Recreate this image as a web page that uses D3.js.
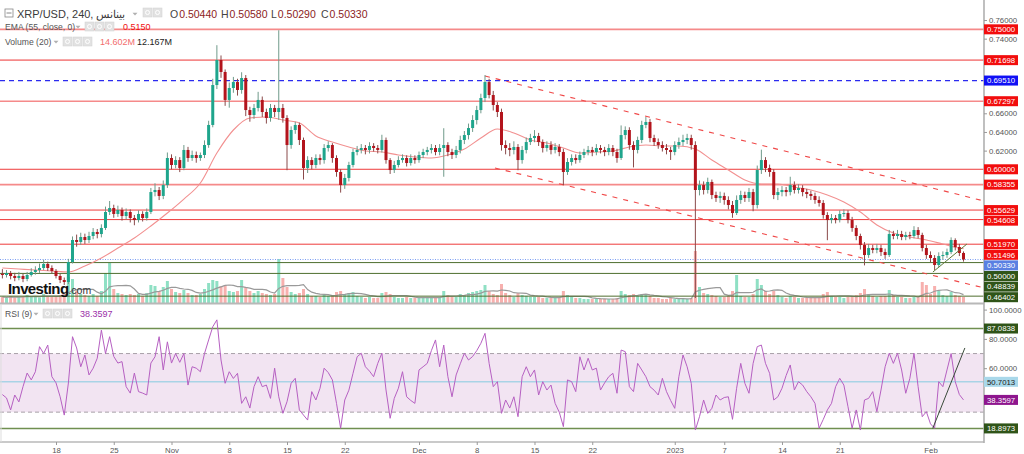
<!DOCTYPE html>
<html><head><meta charset="utf-8">
<script src="https://cdn.jsdelivr.net/npm/d3@7/dist/d3.min.js"></script>
<style>
html,body{margin:0;padding:0;background:#fff;}
svg{display:block;font-family:"Liberation Sans",Arial,sans-serif;}
</style></head><body>
<svg id="c" width="1024" height="454"></svg>
<script>
// ---------- DATA (12h candles, XRP/USD) ----------
const firstCandle = "2022-10-11T12:00:00Z";
const firstOpen = 0.4880;
const closes = [
0.4867,0.4888,0.4856,0.4835,0.4856,0.4824,0.4867,0.4899,0.4920,0.4942,
0.4985,0.4942,0.4910,0.4856,0.4813,0.4792,0.5006,0.5242,0.5221,0.5274,
0.5242,0.5285,0.5328,0.5306,0.5371,0.5542,0.5585,0.5521,0.5564,0.5499,
0.5542,0.5478,0.5456,0.5521,0.5478,0.5542,0.5756,0.5778,0.5714,0.5831,
0.6121,0.6046,0.6099,0.6014,0.6207,0.6121,0.6153,0.6121,0.6153,0.6260,
0.6475,0.6903,0.7171,0.7043,0.6743,0.6871,0.6935,0.6850,0.6978,0.6635,
0.6582,0.6657,0.6743,0.6614,0.6550,0.6657,0.6614,0.6657,0.6550,0.6260,
0.6421,0.6475,0.6314,0.6014,0.6099,0.6046,0.6121,0.6099,0.6228,0.6260,
0.6121,0.5971,0.5831,0.5907,0.6046,0.6185,0.6207,0.6228,0.6207,0.6250,
0.6228,0.6207,0.6314,0.6099,0.5992,0.6046,0.6099,0.6121,0.6067,0.6121,
0.6099,0.6153,0.6185,0.6207,0.6228,0.6185,0.6228,0.6260,0.6185,0.6153,
0.6207,0.6314,0.6367,0.6442,0.6528,0.6635,0.6764,0.6935,0.6796,0.6689,
0.6614,0.6260,0.6228,0.6207,0.6239,0.6099,0.6207,0.6292,0.6335,0.6357,
0.6292,0.6228,0.6260,0.6207,0.6239,0.6185,0.5971,0.6078,0.6121,0.6099,
0.6153,0.6185,0.6207,0.6185,0.6228,0.6207,0.6185,0.6228,0.6185,0.6121,
0.6367,0.6421,0.6260,0.6207,0.6314,0.6475,0.6507,0.6335,0.6292,0.6260,
0.6228,0.6207,0.6185,0.6260,0.6292,0.6314,0.6335,0.6260,0.5778,0.5831,
0.5778,0.5864,0.5724,0.5692,0.5714,0.5671,0.5617,0.5531,0.5671,0.5724,
0.5692,0.5756,0.5617,0.5992,0.6099,0.6014,0.5971,0.5724,0.5756,0.5778,
0.5756,0.5831,0.5778,0.5799,0.5756,0.5735,0.5714,0.5671,0.5639,0.5510,
0.5456,0.5478,0.5456,0.5521,0.5531,0.5456,0.5371,0.5285,0.5188,0.5081,
0.5156,0.5135,0.5156,0.5113,0.5081,0.5306,0.5285,0.5306,0.5274,0.5296,
0.5285,0.5349,0.5296,0.5156,0.5081,0.5049,0.4974,0.5070,0.5081,0.5113,
0.5242,0.5167,0.5103,0.5033];
const highs = [
0.493,0.492,0.491,0.489,0.490,0.488,0.490,0.494,0.496,0.499,
0.503,0.501,0.497,0.493,0.488,0.484,0.504,0.528,0.530,0.532,
0.531,0.533,0.537,0.536,0.541,0.560,0.566,0.562,0.561,0.559,
0.558,0.557,0.551,0.556,0.555,0.558,0.580,0.585,0.581,0.588,
0.618,0.616,0.614,0.613,0.626,0.624,0.620,0.619,0.618,0.631,
0.652,0.697,0.733,0.722,0.707,0.693,0.699,0.697,0.704,0.701,
0.667,0.670,0.683,0.678,0.665,0.670,0.669,0.749,0.670,0.658,
0.646,0.651,0.650,0.634,0.614,0.613,0.616,0.616,0.627,0.630,
0.628,0.615,0.600,0.595,0.608,0.622,0.625,0.627,0.626,0.629,
0.628,0.626,0.637,0.634,0.612,0.609,0.614,0.616,0.615,0.616,
0.615,0.619,0.622,0.624,0.627,0.626,0.627,0.644,0.629,0.622,
0.625,0.636,0.641,0.649,0.658,0.668,0.681,0.701,0.697,0.684,
0.672,0.665,0.631,0.628,0.630,0.627,0.625,0.634,0.638,0.642,
0.639,0.632,0.630,0.630,0.628,0.627,0.622,0.612,0.616,0.616,
0.619,0.622,0.625,0.624,0.627,0.626,0.624,0.627,0.626,0.622,
0.647,0.646,0.645,0.630,0.635,0.652,0.656,0.654,0.637,0.633,
0.630,0.627,0.624,0.630,0.634,0.637,0.638,0.637,0.630,0.588,
0.587,0.591,0.589,0.576,0.576,0.575,0.571,0.566,0.572,0.577,
0.576,0.580,0.579,0.604,0.621,0.613,0.605,0.600,0.580,0.582,
0.581,0.592,0.587,0.584,0.583,0.579,0.577,0.575,0.571,0.567,
0.554,0.552,0.551,0.556,0.557,0.556,0.549,0.540,0.531,0.522,
0.520,0.519,0.520,0.519,0.515,0.535,0.534,0.535,0.534,0.533,
0.533,0.539,0.538,0.532,0.519,0.512,0.508,0.511,0.512,0.515,
0.527,0.526,0.520,0.512];
const lows = [
0.483,0.484,0.482,0.480,0.481,0.479,0.480,0.485,0.487,0.489,
0.492,0.491,0.488,0.483,0.478,0.476,0.477,0.499,0.517,0.519,
0.520,0.521,0.525,0.526,0.527,0.535,0.551,0.548,0.549,0.545,
0.546,0.543,0.540,0.543,0.544,0.545,0.552,0.571,0.567,0.568,
0.580,0.600,0.601,0.597,0.599,0.608,0.609,0.607,0.609,0.612,
0.623,0.645,0.686,0.698,0.668,0.666,0.682,0.679,0.681,0.657,
0.651,0.654,0.662,0.656,0.649,0.651,0.656,0.653,0.650,0.599,
0.622,0.638,0.626,0.589,0.596,0.600,0.601,0.605,0.606,0.619,
0.607,0.592,0.575,0.579,0.587,0.602,0.615,0.617,0.616,0.617,
0.619,0.617,0.618,0.606,0.595,0.596,0.602,0.607,0.603,0.604,
0.606,0.607,0.612,0.615,0.617,0.615,0.615,0.592,0.614,0.611,
0.612,0.617,0.627,0.632,0.640,0.648,0.660,0.672,0.676,0.663,
0.656,0.620,0.616,0.614,0.616,0.599,0.606,0.617,0.626,0.629,
0.625,0.618,0.619,0.616,0.617,0.614,0.583,0.594,0.604,0.606,
0.607,0.612,0.615,0.614,0.615,0.617,0.614,0.615,0.614,0.607,
0.610,0.632,0.621,0.602,0.617,0.628,0.644,0.629,0.625,0.622,
0.619,0.616,0.610,0.615,0.622,0.625,0.627,0.621,0.462,0.572,
0.573,0.574,0.568,0.565,0.564,0.562,0.557,0.548,0.551,0.563,
0.565,0.565,0.555,0.558,0.595,0.597,0.592,0.568,0.567,0.571,
0.571,0.572,0.574,0.574,0.571,0.569,0.567,0.563,0.560,0.547,
0.524,0.542,0.542,0.543,0.549,0.542,0.533,0.524,0.514,0.497,
0.505,0.510,0.510,0.507,0.504,0.506,0.525,0.525,0.524,0.524,
0.525,0.526,0.526,0.512,0.504,0.500,0.492,0.495,0.503,0.505,
0.509,0.513,0.507,0.501];
// volume per candle, millions
const volumes = [
30,25,35,28,30,32,40,35,30,28, 45,35,30,35,40,45,130,120,60,45,
40,35,45,35,60,150,200,70,50,45, 40,45,40,45,35,50,90,85,60,80,
110,70,55,50,65,50,40,40,45,70, 100,115,110,85,90,60,55,60,115,80,
60,50,60,50,45,40,45,220,125,80, 55,45,50,70,45,35,35,30,40,35,
40,55,60,45,50,55,35,30,25,30, 25,25,50,55,45,30,25,25,30,25,
25,25,30,25,30,30,25,60,40,30, 30,45,40,50,55,60,65,90,60,45,
40,95,50,40,30,50,40,35,30,30, 30,25,25,25,25,30,60,40,30,25,
25,20,20,20,20,20,20,20,20,25, 60,45,40,45,35,45,40,35,25,25,
20,20,25,20,20,20,20,25,260,80, 50,45,40,35,30,30,35,60,140,35,
30,30,45,120,90,60,45,60,40,30, 25,35,30,25,25,25,25,25,30,45,
55,35,30,30,25,30,35,40,50,70, 45,35,30,35,35,65,40,30,30,25,
25,30,30,105,90,45,85,60,40,35, 55,40,35,30];
// EMA(55) read every 4 candles, plus the last candle
const emaSlots = [0,4,8,12,16,20,24,28,32,36,40,44,48,52,56,60,64,68,72,76,80,84,88,92,96,100,104,108,112,116,120,124,128,132,136,140,144,148,152,156,160,164,168,172,176,180,184,188,192,196,200,204,208,212,216,220,224,228,232,233];
const emaValues = [0.4942,0.4931,0.4920,0.4910,0.4899,0.4963,0.5049,0.5156,0.5263,0.5392,0.5531,0.5681,0.5853,0.6174,0.6421,0.6550,0.6560,0.6528,0.6496,0.6357,0.6292,0.6239,0.6196,0.6185,0.6153,0.6132,0.6121,0.6153,0.6217,0.6335,0.6432,0.6389,0.6314,0.6282,0.6228,0.6174,0.6185,0.6196,0.6239,0.6260,0.6250,0.6250,0.6217,0.6099,0.5992,0.5885,0.5842,0.5842,0.5810,0.5778,0.5724,0.5649,0.5542,0.5403,0.5317,0.5274,0.5242,0.5199,0.5156,0.51496];
// RSI(9) per candle
const rsiValues = [
42,39.7,31.5,41.7,37,47.4,56.7,52,57.6,74.7, 70,75.8,54.2,50,40.5,28,49.9,81.5,73.8,61,
69,55.4,60,66.8,86,70,81.5,68,63.5,64.5, 47.4,43,56.7,44,43,41.7,63.5,67.8,81.5,58.8,
78,63.5,70,64,70,48.5,61,60,57.6,70, 79.3,88.3,93,65.6,49.7,57.6,53,56.5,36,40.5,
32.8,47.4,54.2,47.4,48.5,39.4,60,40.5,29.2,37.1, 49.7,53.1,31.5,28,24.6,44,38.3,46.3,60,57,
52,36,19,38.3,45,56.5,67.8,70.2,61,58, 54.2,63.3,70.2,45.1,25.8,39.4,46.3,57.6,40.5,38,
36,58.8,61,63.3,72,79.3,61,75.8,54.2,40.5, 55.4,63,70.2,65.6,68,72,77,83.8,63.3,47.4,
50.8,29.2,38.3,32.8,40.5,26.9,54.2,61,54.2,58.8, 41.7,50.8,45.1,48.5,36,30,20.1,52,50.8,44,
67.8,58.8,66.8,58.8,60,45.1,50,54.2,56.5,42.9, 72.4,71.3,47.4,44,63.3,58.8,54.2,47.4,45,41.7,
53.1,44,38,32.6,54.2,69,61,49.7,17.8,26.9, 38.3,29.2,32.6,41.7,38.3,40,40.5,25.1,46.3,63.3,
49.7,42.9,63.3,74.7,75.8,63.3,56.5,38.3,40.5,46.3, 55,62.2,45.1,50.8,48.5,44,40.5,36,19,25,
31.5,36,47.4,53.1,48.5,33.7,19,31.5,17.8,38.3, 39.4,44,30.3,45.1,61,70.2,63.3,70.2,58.8,42.9,
53.1,70.2,47.4,26.9,30.3,22,19,50.8,47.4,58.8, 70,50.8,42,38.36];
// horizontal levels
const redLevels = [0.75,0.71698,0.67297,0.58355];
const redThinLevels = [0.60,0.55629,0.54608,0.51970];
const greenLevels = [0.50,0.48839,0.46402];
const blueDashed = 0.69510;
const lastPrice = 0.50330;
const emaLast = 0.51496;
// channel and trend lines [time, price]
const channelUpper = [["2022-12-09T00:00:00Z",0.700],["2023-02-07T12:00:00Z",0.566]];
const channelLower = [["2022-12-10T05:00:00Z",0.6014],["2023-02-07T12:00:00Z",0.4728]];
const trendUp = [["2023-02-01T07:00:00Z",0.4899],["2023-02-05T10:00:00Z",0.5199]];
const rsiTrend = [["2023-02-01T06:30:00Z",18.9],["2023-02-05T04:00:00Z",73.8]];
const rsiLevels = {top:87.0838, mid:50.7013, bot:18.8973, last:38.3597};
const priceTicks = [0.46,0.48,0.50,0.52,0.54,0.56,0.58,0.60,0.62,0.64,0.66,0.68,0.70,0.72,0.74,0.76];
const rsiTicks = [20,40,60,80,100];
const dateTicks = [["2022-10-18","18"],["2022-10-25","25"],["2022-11-01","Nov"],["2022-11-08","8"],["2022-11-15","15"],["2022-11-22","22"],["2022-12-01","Dec"],["2022-12-08","8"],["2022-12-15","15"],["2022-12-22","22"],["2023-01-01","2023"],["2023-01-07","7"],["2023-01-14","14"],["2023-01-21","21"],["2023-02-01","Feb"]];
const legendOHLC = ["0.50440","0.50580","0.50290","0.50330"];

// ---------- LAYOUT ----------
const R = 984, MAIN_BOT = 303, RSI_TOP = 304, RSI_BOT = 442;
const DAY = 864e5, tRef = Date.UTC(2022,9,18);
const x = d3.scaleUtc().domain([new Date(tRef-6.788*DAY), new Date(tRef+112.485*DAY)]).range([0,R]);
const y = d3.scaleLinear().domain([0.46,0.76]).range([299.9,20]);
const yR = d3.scaleLinear().domain([0,100]).range([456.1,309.6]);
const yV = d3.scaleLinear().domain([0,600]).range([MAIN_BOT,MAIN_BOT-120]);

const t0 = new Date(firstCandle).getTime();
const tOf = i => new Date(t0 + i*12*3600e3);
const candles = closes.map((c,i)=>({t:tOf(i), o:i?closes[i-1]:firstOpen, h:highs[i], l:lows[i], c, v:volumes[i], r:rsiValues[i]}));

const svg = d3.select('#c');
const defs = svg.append('defs');
defs.append('clipPath').attr('id','cm').append('rect').attr('x',0).attr('y',0).attr('width',R).attr('height',MAIN_BOT);
defs.append('clipPath').attr('id','cr').append('rect').attr('x',0).attr('y',RSI_TOP).attr('width',R).attr('height',RSI_BOT-RSI_TOP);

const main = svg.append('g').attr('clip-path','url(#cm)');
const rsiG = svg.append('g').attr('clip-path','url(#cr)');

// volume bars
const bw = 3;
main.append('g').selectAll('rect').data(candles).join('rect')
  .attr('x',d=>x(d.t)-bw/2).attr('width',bw)
  .attr('y',d=>yV(d.v)).attr('height',d=>MAIN_BOT-yV(d.v))
  .attr('fill',d=>d.c>=d.o?'#8fe0c4':'#f7b0ae');
// volume MA
const vma = candles.map((d,i)=>{const s=candles.slice(Math.max(0,i-6),i+1);return {t:d.t,v:d3.mean(s,e=>e.v)};});
main.append('path').datum(vma).attr('fill','none').attr('stroke','#9a9a9a').attr('stroke-width',1.2)
  .attr('d',d3.line().x(d=>x(d.t)).y(d=>yV(d.v)));

// horizontal levels
function hline(v,color,w,dash){
  main.append('line').attr('x1',0).attr('x2',R).attr('y1',y(v)).attr('y2',y(v))
    .attr('stroke',color).attr('stroke-width',w).attr('stroke-dasharray',dash||null);
}
redLevels.forEach(v=>hline(v,'#f58a8a',1.6));
redThinLevels.forEach(v=>hline(v,'#ee3b3b',1));
greenLevels.forEach(v=>hline(v,'#4e6e2e',1));
hline(blueDashed,'#2b2bf0',1.2,'5,4');
hline(lastPrice,'#7c9ef2',1,'1,1.5');

// channel lines
const lp = d3.line().x(d=>x(new Date(d[0]))).y(d=>y(d[1]));
[channelUpper,channelLower].forEach(c=>main.append('path').datum(c).attr('d',lp)
  .attr('stroke','#f04848').attr('stroke-width',1.1).attr('stroke-dasharray','5,6').attr('fill','none'));

// EMA
const emaData = emaSlots.map((s,k)=>({t:tOf(s),v:emaValues[k]}));
main.append('path').datum(emaData).attr('fill','none').attr('stroke','#f29090').attr('stroke-width',1.1)
  .attr('d',d3.line().curve(d3.curveMonotoneX).x(d=>x(d.t)).y(d=>y(d.v)));

// candles
const cg = main.append('g');
cg.selectAll('line').data(candles).join('line')
  .attr('x1',d=>x(d.t)).attr('x2',d=>x(d.t)).attr('y1',d=>y(d.h)).attr('y2',d=>y(d.l))
  .attr('stroke',d=>d.c>=d.o?'#6f9a8a':'#8a4a4a').attr('stroke-width',1);
cg.selectAll('rect').data(candles).join('rect')
  .attr('x',d=>x(d.t)-1.5).attr('width',3)
  .attr('y',d=>y(Math.max(d.o,d.c))).attr('height',d=>Math.max(1,Math.abs(y(d.o)-y(d.c))))
  .attr('fill',d=>d.c>=d.o?'#1fa58c':'#b3141c');

// trend line
main.append('path').datum(trendUp).attr('d',lp).attr('stroke','#5d7a3a').attr('stroke-width',1).attr('fill','none');

// ---------- RSI ----------
rsiG.append('rect').attr('x',0).attr('width',R).attr('y',yR(70)).attr('height',yR(30)-yR(70)).attr('fill','#f2e4f2');
[70,30].forEach(v=>rsiG.append('line').attr('x1',0).attr('x2',R).attr('y1',yR(v)).attr('y2',yR(v))
  .attr('stroke','#a8a0a8').attr('stroke-dasharray','4,3'));
[[rsiLevels.top,'#6f8f50',1.5],[rsiLevels.bot,'#6f8f50',1.5],[rsiLevels.mid,'#a9d3e6',1.5]].forEach(a=>
  rsiG.append('line').attr('x1',0).attr('x2',R).attr('y1',yR(a[0])).attr('y2',yR(a[0])).attr('stroke',a[1]).attr('stroke-width',a[2]));
rsiG.append('path').datum(candles).attr('fill','none').attr('stroke','#b660c2').attr('stroke-width',1)
  .attr('d',d3.line().x(d=>x(d.t)).y(d=>yR(d.r)));
const lr = d3.line().x(d=>x(new Date(d[0]))).y(d=>yR(d[1]));
rsiG.append('path').datum(rsiTrend).attr('d',lr).attr('stroke','#3a4a3a').attr('stroke-width',1).attr('fill','none');

// ---------- frame ----------
svg.append('line').attr('x1',0).attr('x2',R).attr('y1',MAIN_BOT+0.5).attr('y2',MAIN_BOT+0.5).attr('stroke','#b8b8b8').attr('stroke-width',2);
svg.append('line').attr('x1',0).attr('x2',R).attr('y1',RSI_BOT).attr('y2',RSI_BOT).attr('stroke','#b8b8b8').attr('stroke-width',1.5);
svg.append('line').attr('x1',R).attr('x2',R).attr('y1',0).attr('y2',RSI_BOT+1).attr('stroke','#b0b0b0').attr('stroke-width',1.6);
svg.append('line').attr('x1',1).attr('x2',1).attr('y1',RSI_TOP).attr('y2',RSI_BOT).attr('stroke','#ddd');

// right-side value boxes (stacked so they do not collide)
const boxes = [];
redLevels.concat(redThinLevels).forEach(v=>boxes.push({v,bg:'#f20d0d',fg:'#fff'}));
greenLevels.forEach(v=>boxes.push({v,bg:'#2f5418',fg:'#fff'}));
boxes.push({v:blueDashed,bg:'#1010f5',fg:'#fff'});
boxes.push({v:lastPrice,bg:'#5a80e2',fg:'#fff'});
boxes.push({v:emaLast,bg:'#f20d0d',fg:'#fff'});
boxes.forEach(b=>b.y=y(b.v));
boxes.sort((a,b)=>a.y-b.y);
for(let i=1;i<boxes.length;i++){ if(boxes[i].y<boxes[i-1].y+10.6) boxes[i].y=boxes[i-1].y+10.6; }
const rsiBoxes = [[rsiLevels.top,'#2f5418','#fff'],[rsiLevels.mid,'#a9d8ea','#222'],[rsiLevels.last,'#8e168e','#fff'],[rsiLevels.bot,'#2f5418','#fff']]
  .map(a=>({v:a[0],y:yR(a[0]),bg:a[1],fg:a[2]}));

// axes (tick labels hidden where a value box covers them)
const freeP = priceTicks.filter(v=>boxes.every(b=>Math.abs(b.y-y(v))>=9));
const freeR = rsiTicks.filter(v=>rsiBoxes.every(b=>Math.abs(b.y-yR(v))>=9));
const axP = svg.append('g').attr('transform',`translate(${R},0)`)
  .call(d3.axisRight(y).tickValues(freeP).tickFormat(d3.format('.5f')).tickSize(3).tickPadding(2));
const axR = svg.append('g').attr('transform',`translate(${R},0)`)
  .call(d3.axisRight(yR).tickValues(freeR).tickFormat(d3.format('.4f')).tickSize(3).tickPadding(2));
const axX = svg.append('g').attr('transform',`translate(0,${RSI_BOT})`)
  .call(d3.axisBottom(x).tickValues(dateTicks.map(d=>new Date(d[0]+'T00:00:00Z')))
    .tickFormat((d,i)=>dateTicks[i][1]).tickSize(3).tickPadding(2));
[axP,axR,axX].forEach(a=>{a.select('.domain').remove();
  a.selectAll('line').attr('stroke','#999');
  a.selectAll('text').attr('fill','#555').attr('font-size',7.8);});

const fmt5 = d3.format('.5f'), f4 = d3.format('.4f');
function drawBox(yc,txt,bg,fg){
  svg.append('rect').attr('x',R).attr('y',yc-5).attr('width',34).attr('height',10).attr('fill',bg);
  svg.append('text').attr('x',R+3).attr('y',yc+2.8).attr('fill',fg).attr('font-size',7.8).text(txt);
}
boxes.forEach(b=>drawBox(b.y,fmt5(b.v),b.bg,b.fg));
rsiBoxes.forEach(b=>drawBox(b.y,f4(b.v),b.bg,b.fg));

// ---------- legends ----------
function icons(x0,y0,n){
  for(let k=0;k<n;k++){
    svg.append('rect').attr('x',x0+k*10).attr('y',y0).attr('width',9).attr('height',9).attr('fill','#e2e2e2').attr('stroke','#d0d0d0').attr('stroke-width',0.5);
    svg.append('circle').attr('cx',x0+k*10+4.5).attr('cy',y0+4.5).attr('r',2).attr('fill','none').attr('stroke','#fff').attr('stroke-width',1);
  }
}
function caret(cx,cy){
  svg.append('path').attr('d',`M${cx-2.5},${cy-1.2}L${cx+2.5},${cy-1.2}L${cx},${cy+1.5}Z`).attr('fill','#b0b0b0');
}
svg.append('rect').attr('x',5).attr('y',9).attr('width',8).attr('height',8).attr('fill','none').attr('stroke','#888').attr('stroke-width',0.8);
svg.append('line').attr('x1',6.5).attr('x2',11.5).attr('y1',13).attr('y2',13).attr('stroke','#888');
svg.append('text').attr('x',17).attr('y',18).attr('font-size',11).attr('fill','#3a3a3a').text('XRP/USD, 240, بينانس');
caret(135,14);
icons(143,8,2);
const ohlcL = ['O','H','L','C'];
const ohlcX = [170,221,271,321];
ohlcL.forEach((L,k)=>{
  const t = svg.append('text').attr('x',ohlcX[k]).attr('y',18).attr('font-size',10.5);
  t.append('tspan').attr('fill','#444').text(L);
  t.append('tspan').attr('dx',1).attr('fill','#8c1d1d').text(legendOHLC[k]);
});
svg.append('text').attr('x',5).attr('y',30).attr('font-size',8.6).attr('fill','#555').text('EMA (55, close, 0)');
caret(78,27);
icons(85,22,3);
svg.append('text').attr('x',123).attr('y',30).attr('font-size',9).attr('fill','#f01010').text(emaValues[emaValues.length-1].toFixed(4));
svg.append('text').attr('x',5).attr('y',45).attr('font-size',8.6).attr('fill','#555').text('Volume (20)');
caret(56,42);
icons(63,37,3);
svg.append('text').attr('x',100).attr('y',45).attr('font-size',9).attr('fill','#f26d6d').text('14.602M');
svg.append('text').attr('x',137).attr('y',45).attr('font-size',9).attr('fill','#222').text('12.167M');
svg.append('text').attr('x',5).attr('y',317).attr('font-size',8.6).attr('fill','#555').text('RSI (9)');
caret(36,314);
icons(43,309,3);
svg.append('text').attr('x',80).attr('y',317).attr('font-size',9).attr('fill','#9b2fa8').text(rsiLevels.last.toFixed(4));
// watermark
const wm = svg.append('text').attr('x',8).attr('y',294);
wm.append('tspan').attr('font-size',15).attr('font-weight','bold').attr('fill','#111').attr('letter-spacing',-0.6).text('Investing');
wm.append('tspan').attr('font-size',10.5).attr('fill','#333').text('.com');
</script>
</body></html>
